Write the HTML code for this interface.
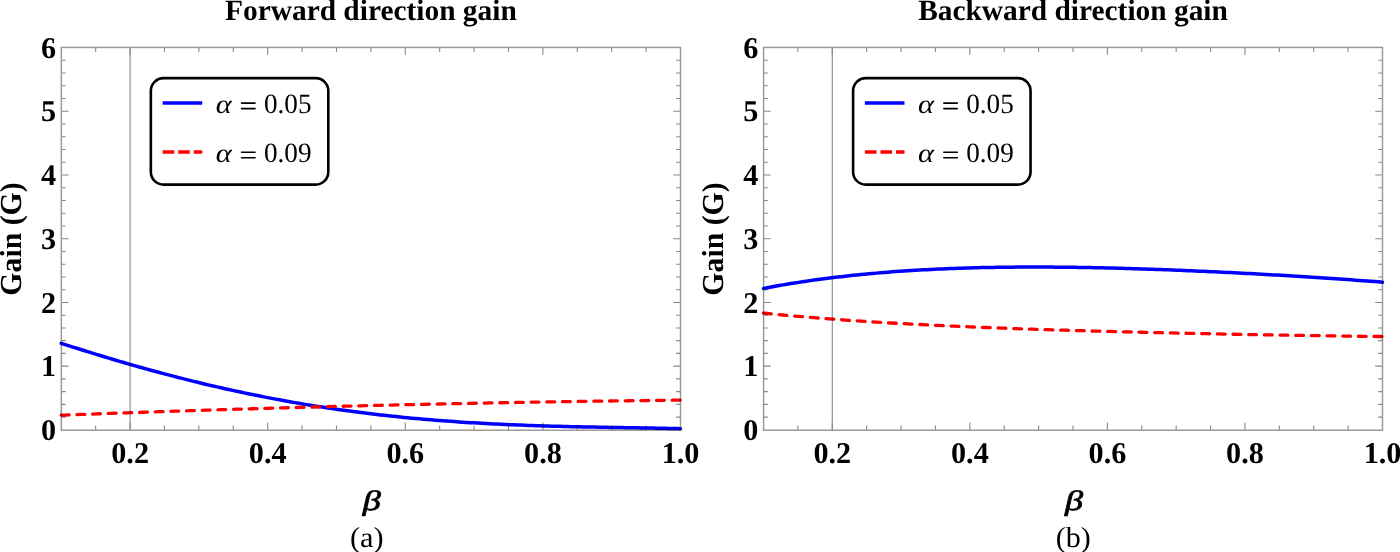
<!DOCTYPE html>
<html><head><meta charset="utf-8"><style>
html,body{margin:0;padding:0;background:#fff;width:1400px;height:552px;overflow:hidden}
svg{display:block}
text{font-family:"Liberation Serif",serif;fill:#000;text-rendering:geometricPrecision}
.tk{font-weight:bold;font-size:30.2px}
.ti{font-weight:bold;font-size:29.4px}
.yl{font-weight:bold;font-size:30.5px}
.be{font-weight:bold;font-style:italic;font-size:30px}
.bei{font-style:italic;stroke:#000;stroke-width:0.7px}
.lt{font-size:28px}
.lg{font-size:28.4px}
.al{font-style:italic}
</style></head><body>
<svg width="1400" height="552" viewBox="0 0 1400 552">
<rect width="1400" height="552" fill="#fff"/>
<path d="M61.25,343.30 L65.14,344.55 L69.04,345.80 L72.93,347.05 L76.83,348.28 L80.72,349.51 L84.62,350.73 L88.51,351.94 L92.41,353.15 L96.30,354.35 L100.20,355.54 L104.09,356.72 L107.99,357.89 L111.88,359.05 L115.78,360.21 L119.67,361.35 L123.56,362.49 L127.46,363.62 L131.35,364.74 L135.25,365.85 L139.14,366.95 L143.04,368.04 L146.93,369.12 L150.83,370.20 L154.72,371.26 L158.62,372.31 L162.51,373.36 L166.41,374.39 L170.30,375.42 L174.19,376.43 L178.09,377.43 L181.98,378.43 L185.88,379.41 L189.77,380.39 L193.67,381.35 L197.56,382.30 L201.46,383.24 L205.35,384.18 L209.25,385.10 L213.14,386.01 L217.04,386.91 L220.93,387.80 L224.83,388.67 L228.72,389.54 L232.61,390.40 L236.51,391.25 L240.40,392.08 L244.30,392.91 L248.19,393.72 L252.09,394.52 L255.98,395.31 L259.88,396.09 L263.77,396.86 L267.67,397.62 L271.56,398.37 L275.46,399.11 L279.35,399.83 L283.25,400.55 L287.14,401.25 L291.03,401.95 L294.93,402.63 L298.82,403.30 L302.72,403.96 L306.61,404.61 L310.51,405.25 L314.40,405.87 L318.30,406.49 L322.19,407.10 L326.09,407.69 L329.98,408.28 L333.88,408.85 L337.77,409.41 L341.67,409.96 L345.56,410.51 L349.45,411.04 L353.35,411.56 L357.24,412.07 L361.14,412.57 L365.03,413.06 L368.93,413.53 L372.82,414.00 L376.72,414.46 L380.61,414.91 L384.51,415.35 L388.40,415.78 L392.30,416.20 L396.19,416.60 L400.08,417.00 L403.98,417.39 L407.87,417.77 L411.77,418.14 L415.66,418.50 L419.56,418.86 L423.45,419.20 L427.35,419.53 L431.24,419.86 L435.14,420.17 L439.03,420.48 L442.93,420.78 L446.82,421.07 L450.72,421.35 L454.61,421.62 L458.50,421.88 L462.40,422.14 L466.29,422.39 L470.19,422.63 L474.08,422.86 L477.98,423.09 L481.87,423.31 L485.77,423.52 L489.66,423.72 L493.56,423.92 L497.45,424.11 L501.35,424.29 L505.24,424.47 L509.14,424.64 L513.03,424.80 L516.92,424.96 L520.82,425.11 L524.71,425.26 L528.61,425.40 L532.50,425.54 L536.40,425.67 L540.29,425.79 L544.19,425.91 L548.08,426.03 L551.98,426.14 L555.87,426.24 L559.77,426.35 L563.66,426.45 L567.56,426.54 L571.45,426.63 L575.34,426.72 L579.24,426.81 L583.13,426.89 L587.03,426.97 L590.92,427.04 L594.82,427.12 L598.71,427.19 L602.61,427.26 L606.50,427.33 L610.40,427.40 L614.29,427.47 L618.19,427.53 L622.08,427.60 L625.97,427.66 L629.87,427.72 L633.76,427.79 L637.66,427.85 L641.55,427.92 L645.45,427.98 L649.34,428.05 L653.24,428.12 L657.13,428.19 L661.03,428.26 L664.92,428.33 L668.82,428.41 L672.71,428.48 L676.61,428.56 L680.50,428.65" fill="none" stroke="#0000ff" stroke-width="3.5" stroke-linejoin="round" stroke-linecap="round"/>
<path d="M61.25,415.20 L65.14,415.06 L69.04,414.91 L72.93,414.76 L76.83,414.62 L80.72,414.47 L84.62,414.33 L88.51,414.18 L92.41,414.04 L96.30,413.90 L100.20,413.75 L104.09,413.61 L107.99,413.47 L111.88,413.33 L115.78,413.19 L119.67,413.05 L123.56,412.92 L127.46,412.78 L131.35,412.64 L135.25,412.51 L139.14,412.37 L143.04,412.24 L146.93,412.10 L150.83,411.97 L154.72,411.84 L158.62,411.71 L162.51,411.57 L166.41,411.44 L170.30,411.31 L174.19,411.19 L178.09,411.06 L181.98,410.93 L185.88,410.80 L189.77,410.68 L193.67,410.55 L197.56,410.42 L201.46,410.30 L205.35,410.18 L209.25,410.05 L213.14,409.93 L217.04,409.81 L220.93,409.69 L224.83,409.57 L228.72,409.45 L232.61,409.33 L236.51,409.21 L240.40,409.09 L244.30,408.98 L248.19,408.86 L252.09,408.74 L255.98,408.63 L259.88,408.52 L263.77,408.40 L267.67,408.29 L271.56,408.18 L275.46,408.06 L279.35,407.95 L283.25,407.84 L287.14,407.73 L291.03,407.63 L294.93,407.52 L298.82,407.41 L302.72,407.30 L306.61,407.20 L310.51,407.09 L314.40,406.99 L318.30,406.88 L322.19,406.78 L326.09,406.68 L329.98,406.57 L333.88,406.47 L337.77,406.37 L341.67,406.27 L345.56,406.17 L349.45,406.07 L353.35,405.97 L357.24,405.88 L361.14,405.78 L365.03,405.68 L368.93,405.59 L372.82,405.49 L376.72,405.40 L380.61,405.31 L384.51,405.21 L388.40,405.12 L392.30,405.03 L396.19,404.94 L400.08,404.85 L403.98,404.76 L407.87,404.67 L411.77,404.58 L415.66,404.50 L419.56,404.41 L423.45,404.32 L427.35,404.24 L431.24,404.15 L435.14,404.07 L439.03,403.99 L442.93,403.90 L446.82,403.82 L450.72,403.74 L454.61,403.66 L458.50,403.58 L462.40,403.50 L466.29,403.42 L470.19,403.34 L474.08,403.27 L477.98,403.19 L481.87,403.11 L485.77,403.04 L489.66,402.96 L493.56,402.89 L497.45,402.82 L501.35,402.74 L505.24,402.67 L509.14,402.60 L513.03,402.53 L516.92,402.46 L520.82,402.39 L524.71,402.32 L528.61,402.26 L532.50,402.19 L536.40,402.12 L540.29,402.06 L544.19,401.99 L548.08,401.93 L551.98,401.86 L555.87,401.80 L559.77,401.74 L563.66,401.68 L567.56,401.62 L571.45,401.55 L575.34,401.50 L579.24,401.44 L583.13,401.38 L587.03,401.32 L590.92,401.26 L594.82,401.21 L598.71,401.15 L602.61,401.10 L606.50,401.04 L610.40,400.99 L614.29,400.94 L618.19,400.88 L622.08,400.83 L625.97,400.78 L629.87,400.73 L633.76,400.68 L637.66,400.63 L641.55,400.58 L645.45,400.54 L649.34,400.49 L653.24,400.44 L657.13,400.40 L661.03,400.35 L664.92,400.31 L668.82,400.26 L672.71,400.22 L676.61,400.18 L680.50,400.14" fill="none" stroke="#ff0000" stroke-width="3.3" stroke-linecap="round" stroke-dasharray="7.85 7.82"/>
<g style="mix-blend-mode:multiply">
<line x1="130.06" y1="47.5" x2="130.06" y2="429.9" stroke="#777" stroke-width="1.1" opacity="0.85"/>
<path d="M95.65,429.9V425.50M95.65,47.5V51.90M130.06,429.9V422.60M130.06,47.5V54.80M164.46,429.9V425.50M164.46,47.5V51.90M198.86,429.9V425.50M198.86,47.5V51.90M233.26,429.9V425.50M233.26,47.5V51.90M267.67,429.9V422.60M267.67,47.5V54.80M302.07,429.9V425.50M302.07,47.5V51.90M336.47,429.9V425.50M336.47,47.5V51.90M370.88,429.9V425.50M370.88,47.5V51.90M405.28,429.9V422.60M405.28,47.5V54.80M439.68,429.9V425.50M439.68,47.5V51.90M474.08,429.9V425.50M474.08,47.5V51.90M508.49,429.9V425.50M508.49,47.5V51.90M542.89,429.9V422.60M542.89,47.5V54.80M577.29,429.9V425.50M577.29,47.5V51.90M611.69,429.9V425.50M611.69,47.5V51.90M646.10,429.9V425.50M646.10,47.5V51.90M61.25,417.15H65.65M680.5,417.15H676.10M61.25,404.41H65.65M680.5,404.41H676.10M61.25,391.66H65.65M680.5,391.66H676.10M61.25,378.91H65.65M680.5,378.91H676.10M61.25,366.17H68.55M680.5,366.17H673.20M61.25,353.42H65.65M680.5,353.42H676.10M61.25,340.67H65.65M680.5,340.67H676.10M61.25,327.93H65.65M680.5,327.93H676.10M61.25,315.18H65.65M680.5,315.18H676.10M61.25,302.43H68.55M680.5,302.43H673.20M61.25,289.69H65.65M680.5,289.69H676.10M61.25,276.94H65.65M680.5,276.94H676.10M61.25,264.19H65.65M680.5,264.19H676.10M61.25,251.45H65.65M680.5,251.45H676.10M61.25,238.70H68.55M680.5,238.70H673.20M61.25,225.95H65.65M680.5,225.95H676.10M61.25,213.21H65.65M680.5,213.21H676.10M61.25,200.46H65.65M680.5,200.46H676.10M61.25,187.71H65.65M680.5,187.71H676.10M61.25,174.97H68.55M680.5,174.97H673.20M61.25,162.22H65.65M680.5,162.22H676.10M61.25,149.47H65.65M680.5,149.47H676.10M61.25,136.73H65.65M680.5,136.73H676.10M61.25,123.98H65.65M680.5,123.98H676.10M61.25,111.23H68.55M680.5,111.23H673.20M61.25,98.49H65.65M680.5,98.49H676.10M61.25,85.74H65.65M680.5,85.74H676.10M61.25,72.99H65.65M680.5,72.99H676.10M61.25,60.25H65.65M680.5,60.25H676.10" stroke="#888" stroke-width="1.1" fill="none"/>
<rect x="61.35" y="47.45" width="619.15" height="382.75" fill="none" stroke="#979797" stroke-width="1.45"/>
</g>
<text x="130.11" y="462.8" class="tk" text-anchor="middle">0.2</text>
<text x="267.72" y="462.8" class="tk" text-anchor="middle">0.4</text>
<text x="405.33" y="462.8" class="tk" text-anchor="middle">0.6</text>
<text x="542.94" y="462.8" class="tk" text-anchor="middle">0.8</text>
<text x="680.55" y="462.8" class="tk" text-anchor="middle">1.0</text>
<text x="56.05" y="440.00" class="tk" text-anchor="end">0</text>
<text x="56.05" y="376.27" class="tk" text-anchor="end">1</text>
<text x="56.05" y="312.53" class="tk" text-anchor="end">2</text>
<text x="56.05" y="248.80" class="tk" text-anchor="end">3</text>
<text x="56.05" y="185.07" class="tk" text-anchor="end">4</text>
<text x="56.05" y="121.33" class="tk" text-anchor="end">5</text>
<text x="56.05" y="57.60" class="tk" text-anchor="end">6</text>
<text x="370.88" y="19.7" class="ti" text-anchor="middle">Forward direction gain</text>
<text transform="translate(362.77,510.17) scale(1.2935,1)" class="bei" style="font-size:28.04px">β</text>
<text transform="translate(349.94,546.50) scale(1.0446,1)" class="lt" style="font-size:29.00px">(a)</text>
<text transform="translate(20.70,239) rotate(-90) scale(0.976,1)" class="yl" text-anchor="middle">Gain (G)</text>
<rect x="150.85" y="78.15" width="177.45" height="106.45" rx="12.7" ry="12.7" fill="#fff" stroke="#000" stroke-width="2.6"/>
<line x1="162.65" y1="103" x2="202.25" y2="103" stroke="#0000ff" stroke-width="3.5"/>
<line x1="162.65" y1="152" x2="202.25" y2="152" stroke="#ff0000" stroke-width="3.5" stroke-dasharray="11.6 3.95"/>
<text transform="translate(215.74,112.55) scale(1.1487,1)" class="lg al" style="font-size:26.46px">α</text>
<path d="M241.55,103.10H255.05M241.55,108.60H255.05" stroke="#000" stroke-width="1.6" stroke-linecap="round"/>
<text transform="translate(263.96,112.70) scale(0.9730,1)" class="lg" style="font-size:27.94px">0.05</text>
<text transform="translate(215.74,161.75) scale(1.1487,1)" class="lg al" style="font-size:26.46px">α</text>
<path d="M241.55,152.30H255.05M241.55,157.80H255.05" stroke="#000" stroke-width="1.6" stroke-linecap="round"/>
<text transform="translate(263.96,161.90) scale(0.9730,1)" class="lg" style="font-size:27.94px">0.09</text>
<path d="M763.50,288.41 L767.39,287.67 L771.29,286.96 L775.18,286.25 L779.07,285.57 L782.97,284.90 L786.86,284.24 L790.75,283.60 L794.64,282.98 L798.54,282.37 L802.43,281.78 L806.32,281.20 L810.22,280.64 L814.11,280.09 L818.00,279.56 L821.90,279.04 L825.79,278.53 L829.68,278.04 L833.58,277.56 L837.47,277.09 L841.36,276.64 L845.25,276.20 L849.15,275.77 L853.04,275.36 L856.93,274.96 L860.83,274.57 L864.72,274.19 L868.61,273.82 L872.51,273.47 L876.40,273.12 L880.29,272.79 L884.19,272.47 L888.08,272.16 L891.97,271.86 L895.86,271.58 L899.76,271.30 L903.65,271.03 L907.54,270.77 L911.44,270.53 L915.33,270.29 L919.22,270.06 L923.12,269.84 L927.01,269.64 L930.90,269.44 L934.80,269.25 L938.69,269.07 L942.58,268.89 L946.47,268.73 L950.37,268.57 L954.26,268.43 L958.15,268.29 L962.05,268.16 L965.94,268.04 L969.83,267.92 L973.73,267.81 L977.62,267.72 L981.51,267.62 L985.41,267.54 L989.30,267.46 L993.19,267.39 L997.08,267.33 L1000.98,267.27 L1004.87,267.22 L1008.76,267.18 L1012.66,267.14 L1016.55,267.11 L1020.44,267.09 L1024.34,267.07 L1028.23,267.06 L1032.12,267.05 L1036.02,267.05 L1039.91,267.06 L1043.80,267.07 L1047.69,267.08 L1051.59,267.10 L1055.48,267.13 L1059.37,267.16 L1063.27,267.20 L1067.16,267.24 L1071.05,267.29 L1074.95,267.34 L1078.84,267.40 L1082.73,267.46 L1086.63,267.53 L1090.52,267.60 L1094.41,267.68 L1098.31,267.76 L1102.20,267.84 L1106.09,267.93 L1109.98,268.02 L1113.88,268.12 L1117.77,268.22 L1121.66,268.32 L1125.56,268.43 L1129.45,268.54 L1133.34,268.66 L1137.24,268.78 L1141.13,268.90 L1145.02,269.03 L1148.92,269.16 L1152.81,269.29 L1156.70,269.43 L1160.59,269.57 L1164.49,269.71 L1168.38,269.86 L1172.27,270.01 L1176.17,270.16 L1180.06,270.32 L1183.95,270.48 L1187.85,270.64 L1191.74,270.80 L1195.63,270.97 L1199.53,271.14 L1203.42,271.32 L1207.31,271.49 L1211.20,271.67 L1215.10,271.85 L1218.99,272.04 L1222.88,272.23 L1226.78,272.42 L1230.67,272.61 L1234.56,272.80 L1238.46,273.00 L1242.35,273.20 L1246.24,273.41 L1250.14,273.61 L1254.03,273.82 L1257.92,274.03 L1261.81,274.24 L1265.71,274.46 L1269.60,274.68 L1273.49,274.90 L1277.39,275.12 L1281.28,275.35 L1285.17,275.58 L1289.07,275.81 L1292.96,276.04 L1296.85,276.28 L1300.75,276.52 L1304.64,276.76 L1308.53,277.00 L1312.42,277.25 L1316.32,277.50 L1320.21,277.75 L1324.10,278.00 L1328.00,278.26 L1331.89,278.52 L1335.78,278.78 L1339.68,279.05 L1343.57,279.31 L1347.46,279.58 L1351.36,279.86 L1355.25,280.13 L1359.14,280.41 L1363.03,280.69 L1366.93,280.98 L1370.82,281.26 L1374.71,281.55 L1378.61,281.85 L1382.50,282.14" fill="none" stroke="#0000ff" stroke-width="3.5" stroke-linejoin="round" stroke-linecap="round"/>
<path d="M763.50,313.13 L767.39,313.51 L771.29,313.89 L775.18,314.27 L779.07,314.63 L782.97,314.99 L786.86,315.35 L790.75,315.70 L794.64,316.04 L798.54,316.38 L802.43,316.71 L806.32,317.04 L810.22,317.36 L814.11,317.68 L818.00,317.99 L821.90,318.29 L825.79,318.60 L829.68,318.89 L833.58,319.18 L837.47,319.47 L841.36,319.75 L845.25,320.03 L849.15,320.30 L853.04,320.57 L856.93,320.83 L860.83,321.09 L864.72,321.34 L868.61,321.59 L872.51,321.84 L876.40,322.08 L880.29,322.32 L884.19,322.55 L888.08,322.78 L891.97,323.01 L895.86,323.23 L899.76,323.45 L903.65,323.67 L907.54,323.88 L911.44,324.09 L915.33,324.29 L919.22,324.49 L923.12,324.69 L927.01,324.89 L930.90,325.08 L934.80,325.27 L938.69,325.46 L942.58,325.64 L946.47,325.82 L950.37,326.00 L954.26,326.17 L958.15,326.35 L962.05,326.51 L965.94,326.68 L969.83,326.85 L973.73,327.01 L977.62,327.17 L981.51,327.32 L985.41,327.48 L989.30,327.63 L993.19,327.78 L997.08,327.93 L1000.98,328.08 L1004.87,328.22 L1008.76,328.36 L1012.66,328.50 L1016.55,328.64 L1020.44,328.78 L1024.34,328.91 L1028.23,329.04 L1032.12,329.17 L1036.02,329.30 L1039.91,329.43 L1043.80,329.55 L1047.69,329.68 L1051.59,329.80 L1055.48,329.92 L1059.37,330.04 L1063.27,330.16 L1067.16,330.27 L1071.05,330.39 L1074.95,330.50 L1078.84,330.61 L1082.73,330.72 L1086.63,330.83 L1090.52,330.94 L1094.41,331.05 L1098.31,331.15 L1102.20,331.26 L1106.09,331.36 L1109.98,331.46 L1113.88,331.57 L1117.77,331.67 L1121.66,331.77 L1125.56,331.86 L1129.45,331.96 L1133.34,332.06 L1137.24,332.15 L1141.13,332.25 L1145.02,332.34 L1148.92,332.43 L1152.81,332.52 L1156.70,332.61 L1160.59,332.70 L1164.49,332.79 L1168.38,332.88 L1172.27,332.97 L1176.17,333.05 L1180.06,333.14 L1183.95,333.22 L1187.85,333.31 L1191.74,333.39 L1195.63,333.48 L1199.53,333.56 L1203.42,333.64 L1207.31,333.72 L1211.20,333.80 L1215.10,333.88 L1218.99,333.96 L1222.88,334.03 L1226.78,334.11 L1230.67,334.19 L1234.56,334.26 L1238.46,334.34 L1242.35,334.41 L1246.24,334.48 L1250.14,334.56 L1254.03,334.63 L1257.92,334.70 L1261.81,334.77 L1265.71,334.84 L1269.60,334.91 L1273.49,334.98 L1277.39,335.04 L1281.28,335.11 L1285.17,335.18 L1289.07,335.24 L1292.96,335.31 L1296.85,335.37 L1300.75,335.43 L1304.64,335.49 L1308.53,335.56 L1312.42,335.62 L1316.32,335.67 L1320.21,335.73 L1324.10,335.79 L1328.00,335.85 L1331.89,335.90 L1335.78,335.96 L1339.68,336.01 L1343.57,336.06 L1347.46,336.12 L1351.36,336.17 L1355.25,336.22 L1359.14,336.26 L1363.03,336.31 L1366.93,336.36 L1370.82,336.40 L1374.71,336.44 L1378.61,336.49 L1382.50,336.53" fill="none" stroke="#ff0000" stroke-width="3.3" stroke-linecap="round" stroke-dasharray="7.85 7.82"/>
<g style="mix-blend-mode:multiply">
<line x1="832.28" y1="47.5" x2="832.28" y2="429.9" stroke="#777" stroke-width="1.1" opacity="0.85"/>
<path d="M797.89,429.9V425.50M797.89,47.5V51.90M832.28,429.9V422.60M832.28,47.5V54.80M866.67,429.9V425.50M866.67,47.5V51.90M901.06,429.9V425.50M901.06,47.5V51.90M935.44,429.9V425.50M935.44,47.5V51.90M969.83,429.9V422.60M969.83,47.5V54.80M1004.22,429.9V425.50M1004.22,47.5V51.90M1038.61,429.9V425.50M1038.61,47.5V51.90M1073.00,429.9V425.50M1073.00,47.5V51.90M1107.39,429.9V422.60M1107.39,47.5V54.80M1141.78,429.9V425.50M1141.78,47.5V51.90M1176.17,429.9V425.50M1176.17,47.5V51.90M1210.56,429.9V425.50M1210.56,47.5V51.90M1244.94,429.9V422.60M1244.94,47.5V54.80M1279.33,429.9V425.50M1279.33,47.5V51.90M1313.72,429.9V425.50M1313.72,47.5V51.90M1348.11,429.9V425.50M1348.11,47.5V51.90M763.5,417.15H767.90M1382.5,417.15H1378.10M763.5,404.41H767.90M1382.5,404.41H1378.10M763.5,391.66H767.90M1382.5,391.66H1378.10M763.5,378.91H767.90M1382.5,378.91H1378.10M763.5,366.17H770.80M1382.5,366.17H1375.20M763.5,353.42H767.90M1382.5,353.42H1378.10M763.5,340.67H767.90M1382.5,340.67H1378.10M763.5,327.93H767.90M1382.5,327.93H1378.10M763.5,315.18H767.90M1382.5,315.18H1378.10M763.5,302.43H770.80M1382.5,302.43H1375.20M763.5,289.69H767.90M1382.5,289.69H1378.10M763.5,276.94H767.90M1382.5,276.94H1378.10M763.5,264.19H767.90M1382.5,264.19H1378.10M763.5,251.45H767.90M1382.5,251.45H1378.10M763.5,238.70H770.80M1382.5,238.70H1375.20M763.5,225.95H767.90M1382.5,225.95H1378.10M763.5,213.21H767.90M1382.5,213.21H1378.10M763.5,200.46H767.90M1382.5,200.46H1378.10M763.5,187.71H767.90M1382.5,187.71H1378.10M763.5,174.97H770.80M1382.5,174.97H1375.20M763.5,162.22H767.90M1382.5,162.22H1378.10M763.5,149.47H767.90M1382.5,149.47H1378.10M763.5,136.73H767.90M1382.5,136.73H1378.10M763.5,123.98H767.90M1382.5,123.98H1378.10M763.5,111.23H770.80M1382.5,111.23H1375.20M763.5,98.49H767.90M1382.5,98.49H1378.10M763.5,85.74H767.90M1382.5,85.74H1378.10M763.5,72.99H767.90M1382.5,72.99H1378.10M763.5,60.25H767.90M1382.5,60.25H1378.10" stroke="#888" stroke-width="1.1" fill="none"/>
<rect x="763.6" y="47.45" width="618.9" height="382.75" fill="none" stroke="#979797" stroke-width="1.45"/>
</g>
<text x="832.33" y="462.8" class="tk" text-anchor="middle">0.2</text>
<text x="969.88" y="462.8" class="tk" text-anchor="middle">0.4</text>
<text x="1107.44" y="462.8" class="tk" text-anchor="middle">0.6</text>
<text x="1244.99" y="462.8" class="tk" text-anchor="middle">0.8</text>
<text x="1382.55" y="462.8" class="tk" text-anchor="middle">1.0</text>
<text x="758.30" y="440.00" class="tk" text-anchor="end">0</text>
<text x="758.30" y="376.27" class="tk" text-anchor="end">1</text>
<text x="758.30" y="312.53" class="tk" text-anchor="end">2</text>
<text x="758.30" y="248.80" class="tk" text-anchor="end">3</text>
<text x="758.30" y="185.07" class="tk" text-anchor="end">4</text>
<text x="758.30" y="121.33" class="tk" text-anchor="end">5</text>
<text x="758.30" y="57.60" class="tk" text-anchor="end">6</text>
<text x="1073.00" y="19.7" class="ti" text-anchor="middle">Backward direction gain</text>
<text transform="translate(1064.89,510.17) scale(1.2935,1)" class="bei" style="font-size:28.04px">β</text>
<text transform="translate(1055.65,546.50) scale(1.0377,1)" class="lt" style="font-size:29.00px">(b)</text>
<text transform="translate(722.95,239) rotate(-90) scale(0.976,1)" class="yl" text-anchor="middle">Gain (G)</text>
<rect x="853.10" y="78.15" width="177.45" height="106.45" rx="12.7" ry="12.7" fill="#fff" stroke="#000" stroke-width="2.6"/>
<line x1="864.90" y1="103" x2="904.50" y2="103" stroke="#0000ff" stroke-width="3.5"/>
<line x1="864.90" y1="152" x2="904.50" y2="152" stroke="#ff0000" stroke-width="3.5" stroke-dasharray="11.6 3.95"/>
<text transform="translate(917.99,112.55) scale(1.1487,1)" class="lg al" style="font-size:26.46px">α</text>
<path d="M943.80,103.10H957.30M943.80,108.60H957.30" stroke="#000" stroke-width="1.6" stroke-linecap="round"/>
<text transform="translate(966.21,112.70) scale(0.9730,1)" class="lg" style="font-size:27.94px">0.05</text>
<text transform="translate(917.99,161.75) scale(1.1487,1)" class="lg al" style="font-size:26.46px">α</text>
<path d="M943.80,152.30H957.30M943.80,157.80H957.30" stroke="#000" stroke-width="1.6" stroke-linecap="round"/>
<text transform="translate(966.21,161.90) scale(0.9730,1)" class="lg" style="font-size:27.94px">0.09</text>
</svg>
</body></html>
